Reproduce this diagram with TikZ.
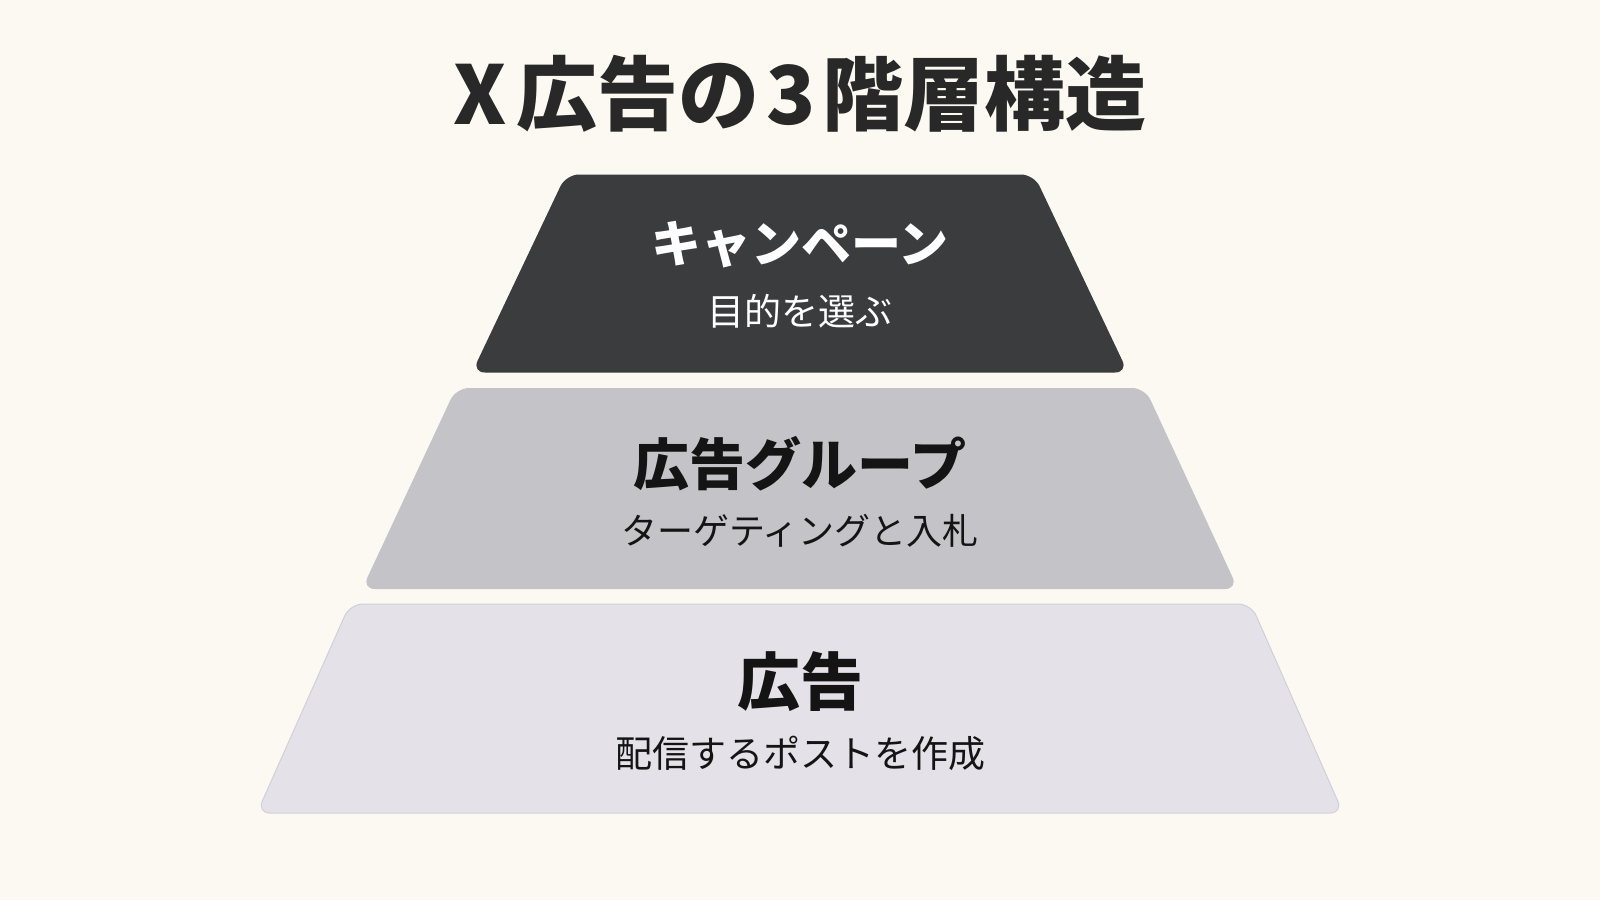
\documentclass[tikz,border=0pt]{standalone}
\usepackage{fontspec}
\setmainfont{Noto Sans CJK JP}
\begin{document}
\begin{tikzpicture}[x=1pt,y=-1pt,
  tier/.style={rounded corners=13pt},
  headtxt/.style={font=\bfseries, anchor=center, inner sep=0pt},
  subtxt/.style={anchor=center, inner sep=0pt}]
\definecolor{bgc}{RGB}{251,249,242}
\definecolor{darkc}{RGB}{58,60,62}
\definecolor{midc}{RGB}{196,196,200}
\definecolor{lightc}{RGB}{228,226,232}
\definecolor{edgec}{RGB}{210,208,214}
\definecolor{titlec}{RGB}{40,40,40}
\definecolor{inkc}{RGB}{20,20,20}
\useasboundingbox (0,0) rectangle (1600,900);
\fill[bgc] (0,0) rectangle (1600,900);
% tiers
\fill[darkc,tier] (566,174.5) -- (1034,174.5) -- (1128,372.5) -- (472,372.5) -- cycle;
\fill[midc,tier] (456,388) -- (1145,388) -- (1238,589) -- (362,589) -- cycle;
\draw[fill=lightc,draw=edgec,line width=1pt,tier] (350,604) -- (1251,604) -- (1343,813) -- (257,813) -- cycle;
% texts
\node[headtxt,text=titlec,font=\fontsize{81}{90}\selectfont\bfseries] (title) at (800,94) {X\hspace{0.12em}広告の\hspace{0.08em}3\hspace{0.08em}階層構造};
\node[headtxt,text=white,font=\fontsize{50}{60}\selectfont\bfseries] (t1) at (800,245) {キャンペーン};
\node[subtxt,text=white,font=\fontsize{37}{44}\selectfont] (s1) at (800,311) {目的を選ぶ};
\node[headtxt,text=inkc,font=\fontsize{56}{66}\selectfont\bfseries] (t2) at (800,464) {広告グループ};
\node[subtxt,text=inkc,font=\fontsize{36}{44}\selectfont] (s2) at (800,531) {ターゲティングと入札};
\node[headtxt,text=inkc,font=\fontsize{63}{72}\selectfont\bfseries] (t3) at (800,682) {広告};
\node[subtxt,text=inkc,font=\fontsize{37}{44}\selectfont] (s3) at (800,753) {配信するポストを作成};
\end{tikzpicture}
\end{document}
